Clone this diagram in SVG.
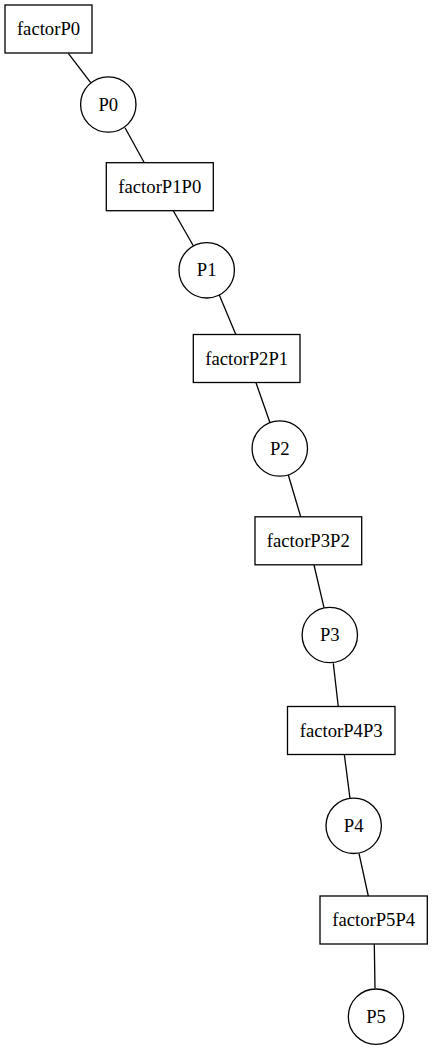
<svg xmlns="http://www.w3.org/2000/svg" width="432" height="1050" viewBox="0 0 432 1050">
  <style>
    .node rect, .node circle { fill: #ffffff; stroke: #000000; stroke-width: 1.3; }
    .edges line { stroke: #000000; stroke-width: 1.3; }
    text { font-family: "Liberation Serif", "Times New Roman", serif; font-size: 18.67px; fill: #000000; text-anchor: middle; }
  </style>
  <rect width="432" height="1050" fill="#ffffff"/>

  <!-- factor graph chain: connectors -->
  <g id="edges" class="edges">
    <line x1="68.3" y1="53.3" x2="90.7" y2="82.7"/>
    <line x1="125" y1="127.7" x2="144.3" y2="162.7"/>
    <line x1="173.3" y1="210.7" x2="193.3" y2="245.7"/>
    <line x1="219.3" y1="295" x2="235.7" y2="334.3"/>
    <line x1="256" y1="382.7" x2="270" y2="422.7"/>
    <line x1="288.3" y1="475" x2="300.7" y2="516.7"/>
    <line x1="314" y1="565" x2="324" y2="607.7"/>
    <line x1="333.3" y1="663.3" x2="338.3" y2="706.7"/>
    <line x1="344.3" y1="754.3" x2="350" y2="798.3"/>
    <line x1="359" y1="853.3" x2="368.3" y2="896"/>
    <line x1="374.3" y1="944" x2="375" y2="988.3"/>
  </g>

  <!-- factor nodes (boxes) and variable nodes (circles) -->
  <g id="factorP0" class="node">
    <rect x="5" y="5" width="87" height="48"/>
    <text x="48.5" y="35">factorP0</text>
  </g>
  <g id="P0" class="node">
    <circle cx="108.3" cy="104.5" r="27.7"/>
    <text x="108.3" y="110.5">P0</text>
  </g>
  <g id="factorP1P0" class="node">
    <rect x="106.3" y="162.7" width="107" height="48"/>
    <text x="159.8" y="192.7">factorP1P0</text>
  </g>
  <g id="P1" class="node">
    <circle cx="206.7" cy="270.3" r="27.7"/>
    <text x="206.7" y="276.3">P1</text>
  </g>
  <g id="factorP2P1" class="node">
    <rect x="193.3" y="334.5" width="106.7" height="48"/>
    <text x="246.7" y="364.5">factorP2P1</text>
  </g>
  <g id="P2" class="node">
    <circle cx="279.8" cy="448.5" r="27.7"/>
    <text x="279.8" y="454.5">P2</text>
  </g>
  <g id="factorP3P2" class="node">
    <rect x="255" y="516.8" width="106.7" height="48"/>
    <text x="308.3" y="546.8">factorP3P2</text>
  </g>
  <g id="P3" class="node">
    <circle cx="329.8" cy="635" r="27.7"/>
    <text x="329.8" y="641">P3</text>
  </g>
  <g id="factorP4P3" class="node">
    <rect x="287.5" y="706.5" width="107.5" height="48"/>
    <text x="341.2" y="736.5">factorP4P3</text>
  </g>
  <g id="P4" class="node">
    <circle cx="353.7" cy="825.8" r="27.7"/>
    <text x="353.7" y="831.8">P4</text>
  </g>
  <g id="factorP5P4" class="node">
    <rect x="320" y="896" width="107.3" height="48"/>
    <text x="373.7" y="926">factorP5P4</text>
  </g>
  <g id="P5" class="node">
    <circle cx="376" cy="1016.7" r="27.7"/>
    <text x="376" y="1022.7">P5</text>
  </g>
</svg>
